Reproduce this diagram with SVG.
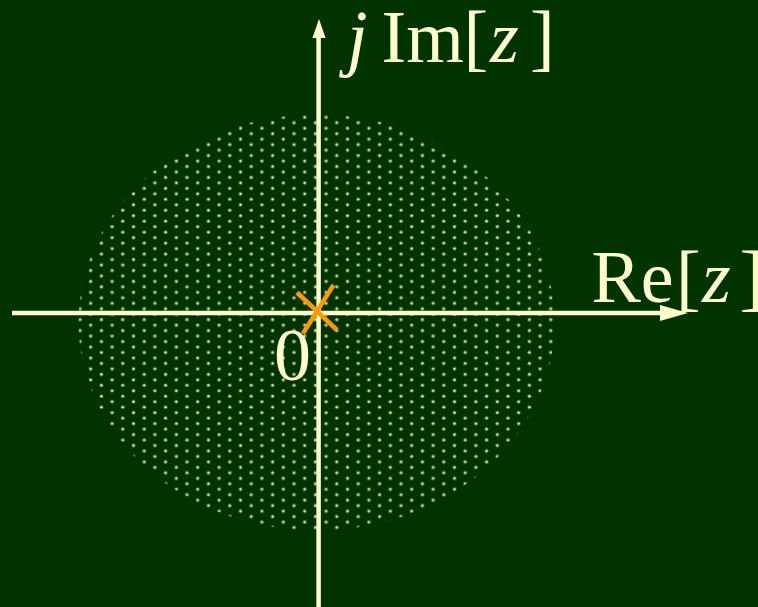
<svg xmlns="http://www.w3.org/2000/svg" width="758" height="607" viewBox="0 0 758 607">
<style>
.axis{stroke:#FFFFCC;stroke-width:4.5;fill:none}
.head{fill:#FFFFCC}
.lbl{font-family:"Liberation Serif","Times New Roman",serif;font-size:74px;fill:#FFFFCC}
.it{font-style:italic}
.pole{stroke:#FF9900;stroke-width:4.5;stroke-linecap:butt}
</style>
<defs>
<pattern id="dots" patternUnits="userSpaceOnUse" x="299.35" y="114.565" width="21.4" height="10.94">
<circle cx="5.35" cy="2.735" r="2" fill="#FFFFCC" opacity="0.35"/>
<circle cx="5.35" cy="2.735" r="1.1" fill="#FFFFCC"/>
<circle cx="16.05" cy="8.205" r="2" fill="#FFFFCC" opacity="0.35"/>
<circle cx="16.05" cy="8.205" r="1.1" fill="#FFFFCC"/>
</pattern>
</defs>
<rect width="758" height="607" fill="#003300"/>
<g id="region">
<ellipse cx="316.5" cy="322.5" rx="238" ry="208" fill="url(#dots)"/>
</g>
<g id="connectors">
<line class="axis" x1="12" y1="313" x2="664" y2="313"/>
<polygon class="head" points="660,305 688,313 660,321"/>
<line class="axis" x1="318.6" y1="607" x2="318.6" y2="36"/>
<polygon class="head" points="312.4,38 319,19 325.6,38"/>
</g>
<g id="pole">
<line class="pole" x1="297" y1="292.5" x2="337" y2="330"/>
<line class="pole" x1="333.5" y1="285" x2="303" y2="333.5"/>
</g>
<g id="labels">
<text class="lbl" y="62"><tspan class="it" x="347">j</tspan><tspan x="381.5">Im</tspan><tspan x="463.5">[</tspan><tspan class="it" x="490">z</tspan><tspan x="530">]</tspan></text>
<text class="lbl" y="302"><tspan x="591.5">Re</tspan><tspan x="676">[</tspan><tspan class="it" x="702">z</tspan><tspan x="739.5">]</tspan></text>
<text class="lbl" x="292.5" y="380" text-anchor="middle">0</text>
</g>
</svg>
